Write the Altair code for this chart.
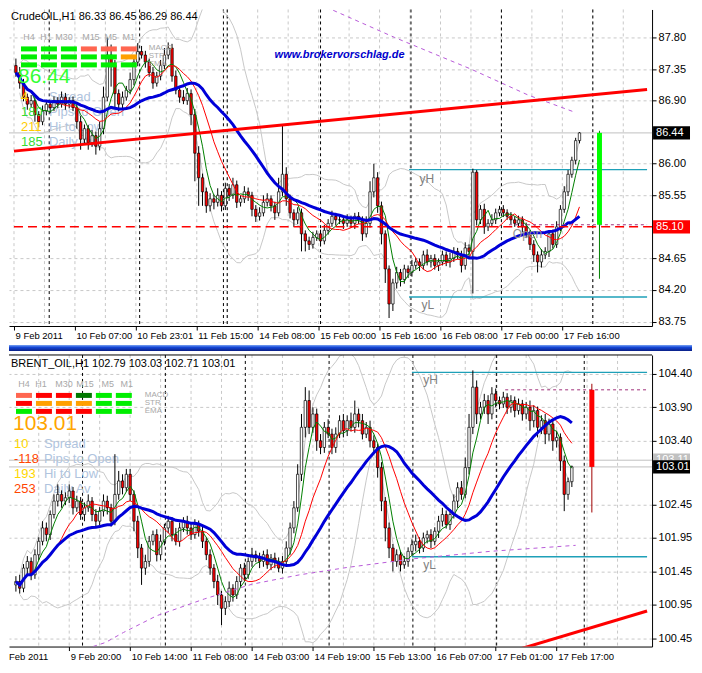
import altair as alt
import pandas as pd

FONT = "Liberation Sans"
W, H1, H2 = 644, 317, 292
XMAX = 166.25

# ---------------- CrudeOIL, H1 ----------------
crude_first_open = 87.40
crude_close = [
    87.30, 87.15, 86.95, 86.85, 86.90, 86.70, 86.60, 86.75, 86.85, 86.80,
    86.90, 86.85, 86.95, 86.85, 86.90, 86.80, 86.60, 86.35, 86.50, 86.30,
    86.40, 86.25, 86.50, 86.95, 87.55, 87.40, 87.00, 86.85, 86.95, 87.05,
    87.20, 87.45, 87.60, 87.55, 87.45, 87.30, 87.15, 87.25, 87.40, 87.55,
    87.65, 87.25, 87.05, 86.95, 86.90, 87.00, 86.70, 86.15, 85.80, 85.60,
    85.40, 85.50, 85.45, 85.55, 85.40, 85.65, 85.55, 85.70, 85.45, 85.50,
    85.60, 85.55, 85.35, 85.25, 85.30, 85.45, 85.50, 85.40, 85.30, 85.60,
    85.85, 85.50, 85.30, 85.20, 85.30, 85.00, 84.90, 84.85, 84.95, 85.00,
    84.90, 85.05, 85.15, 85.25, 85.20, 85.20, 85.15, 85.20, 85.15, 85.25,
    85.20, 85.00, 85.15, 85.60, 85.80, 85.40, 85.00, 84.50, 84.00, 84.30,
    84.45, 84.35, 84.50, 84.45, 84.55, 84.60, 84.55, 84.70, 84.60, 84.65,
    84.55, 84.60, 84.70, 84.60, 84.65, 84.75, 84.70, 84.55, 84.80, 84.75,
    85.88, 85.20, 85.35, 85.10, 85.15, 85.20, 85.30, 85.35, 85.30, 85.25,
    85.20, 85.15, 85.20, 85.10, 85.00, 84.85, 84.70, 84.60, 84.70, 84.75,
    85.00, 84.85, 85.10, 85.35, 85.60, 85.85, 86.05, 86.33, 86.44]
crude_up = [
    10, 8, 6, 5, 8, 6, 5, 8, 6, 5,
    6, 5, 8, 6, 5, 6, 5, 8, 6, 5,
    8, 6, 10, 15, 25, 15, 8, 6, 8, 6,
    10, 8, 12, 8, 6, 5, 8, 6, 8, 10,
    8, 6, 8, 6, 10, 8, 6, 8, 10, 6,
    6, 8, 6, 10, 6, 8, 6, 10, 6, 5,
    8, 6, 5, 6, 8, 10, 8, 5, 6, 20,
    70, 10, 6, 5, 8, 6, 5, 6, 8, 5,
    6, 8, 6, 8, 5, 6, 5, 8, 6, 5,
    6, 5, 10, 15, 20, 8, 6, 5, 5, 6,
    8, 5, 6, 5, 8, 6, 5, 6, 8, 5,
    6, 5, 6, 5, 8, 6, 5, 6, 8, 5,
    5, 3, 6, 8, 6, 8, 6, 5, 6, 5,
    6, 5, 6, 5, 6, 5, 6, 5, 8, 6,
    5, 6, 8, 6, 8, 6, 5, 4, 1]
crude_dn = [
    6, 8, 6, 8, 5, 10, 8, 5, 6, 8,
    5, 6, 5, 8, 6, 5, 10, 15, 8, 10,
    6, 12, 6, 8, 6, 30, 20, 10, 6, 5,
    6, 8, 6, 5, 8, 6, 8, 5, 6, 5,
    6, 8, 6, 8, 5, 6, 15, 40, 40, 20,
    10, 8, 10, 6, 8, 6, 8, 5, 8, 6,
    6, 8, 10, 8, 6, 5, 6, 8, 10, 5,
    6, 10, 8, 10, 6, 25, 15, 8, 6, 5,
    8, 5, 6, 5, 8, 6, 8, 5, 6, 8,
    6, 10, 5, 6, 8, 10, 15, 20, 20, 10,
    8, 10, 6, 8, 6, 5, 8, 6, 5, 8,
    6, 8, 5, 6, 8, 5, 6, 10, 6, 8,
    60, 8, 6, 10, 6, 5, 6, 5, 6, 5,
    6, 5, 6, 8, 6, 8, 10, 15, 8, 6,
    8, 6, 5, 6, 5, 6, 5, 6, 4]
crude_xticks = [0, 16, 32, 48, 64, 80, 96, 112, 128, 144]
crude_xlabels = ["9 Feb 2011", "10 Feb 07:00", "10 Feb 23:01", "11 Feb 15:00", "14 Feb 08:00",
                 "15 Feb 00:00", "15 Feb 16:00", "16 Feb 08:00", "17 Feb 00:00", "17 Feb 16:00"]
crude_yticks = [87.80, 87.35, 86.90, 86.00, 85.55, 84.65, 84.20, 83.75]
crude_ydom = [83.686, 88.20]
crude_days = [9.25, 33, 55, 56, 80.5, 104.25, 128, 152]
crude_long_ma_i = [80, 100, 120, 135, 147.5]
crude_long_ma = [88.28, 87.80, 87.35, 86.98, 86.73]

# ---------------- BRENT_OIL, H1 ----------------
brent_first_open = 101.25
brent_close = [
    101.30, 101.20, 101.50, 101.60, 101.40, 101.70, 101.90, 102.10, 102.00, 102.30,
    102.50, 102.60, 102.50, 102.55, 102.65, 102.40, 102.50, 102.30, 102.40, 102.50,
    102.30, 102.20, 102.35, 102.50, 102.40, 102.20, 102.60, 102.80, 102.70, 102.90,
    102.60, 102.20, 101.80, 101.50, 101.60, 101.90, 102.00, 101.70, 101.90, 102.10,
    102.20, 102.00, 101.90, 102.10, 102.20, 102.10, 102.00, 102.15, 102.05, 101.90,
    101.70, 101.50, 101.30, 101.10, 100.90, 101.00, 101.20, 101.10, 101.30, 101.50,
    101.40, 101.60, 101.70, 101.65, 101.60, 101.70, 101.55, 101.65, 101.60, 101.50,
    101.60, 101.80, 102.10, 102.40, 102.90, 103.60, 104.00, 103.60, 103.80, 103.40,
    103.30, 103.60, 103.50, 103.30, 103.50, 103.70, 103.55, 103.70, 103.60, 103.80,
    103.70, 103.50, 103.60, 103.40, 103.30, 103.00, 102.50, 102.10, 101.80, 101.60,
    101.70, 101.55, 101.60, 101.75, 101.85, 101.90, 101.80, 101.95, 102.00, 101.90,
    102.05, 102.20, 102.30, 102.15, 102.30, 102.50, 102.70, 102.60, 103.00, 103.60,
    104.20, 103.80, 103.90, 104.00, 103.80, 104.10, 104.00, 103.95, 104.05, 103.90,
    104.00, 103.85, 103.95, 103.80, 103.90, 103.70, 103.85, 103.60, 103.70, 103.50,
    103.65, 103.40, 103.45, 103.10, 102.60, 102.79, 103.01]
brent_up = [
    8, 10, 6, 8, 6, 8, 6, 10, 8, 6,
    10, 15, 6, 8, 10, 6, 8, 6, 8, 10,
    6, 8, 6, 10, 8, 6, 60, 15, 10, 8,
    8, 6, 8, 6, 10, 8, 6, 8, 10, 6,
    8, 6, 10, 8, 6, 8, 6, 8, 6, 8,
    6, 8, 6, 10, 6, 8, 10, 6, 8, 6,
    8, 6, 10, 6, 8, 6, 8, 6, 8, 6,
    8, 10, 8, 10, 15, 20, 20, 15, 10, 8,
    10, 8, 12, 8, 10, 8, 10, 8, 12, 20,
    8, 10, 8, 10, 8, 6, 8, 6, 8, 6,
    8, 6, 8, 6, 8, 10, 6, 8, 6, 8,
    6, 8, 10, 6, 8, 10, 8, 10, 15, 20,
    25, 10, 8, 10, 8, 10, 8, 6, 8, 6,
    8, 6, 8, 6, 8, 10, 8, 6, 8, 10,
    8, 6, 10, 6, 8, 6, 2]
brent_dn = [
    10, 8, 6, 10, 8, 6, 8, 6, 10, 8,
    6, 8, 10, 6, 8, 10, 6, 8, 10, 6,
    10, 8, 6, 8, 10, 8, 6, 8, 10, 6,
    10, 15, 15, 25, 10, 8, 6, 10, 8, 6,
    8, 10, 6, 8, 6, 10, 8, 6, 8, 10,
    8, 10, 10, 15, 25, 10, 8, 10, 6, 8,
    10, 6, 8, 6, 10, 8, 6, 8, 10, 6,
    8, 6, 10, 8, 6, 10, 15, 10, 8, 15,
    10, 8, 6, 10, 8, 6, 10, 8, 6, 8,
    10, 8, 6, 10, 8, 15, 15, 20, 15, 15,
    8, 10, 6, 8, 6, 10, 8, 6, 8, 10,
    6, 10, 8, 6, 8, 6, 10, 8, 6, 10,
    10, 15, 8, 10, 15, 8, 10, 8, 6, 10,
    8, 10, 6, 10, 8, 15, 10, 15, 10, 15,
    10, 15, 10, 15, 25, 8, 8]
brent_xticks = [14.5, 30.5, 46.5, 62.5, 78.5, 94.5, 110.5, 126.5, 142.5]
brent_xlabels = ["9 Feb 20:00", "10 Feb 14:00", "11 Feb 08:00", "14 Feb 03:00", "14 Feb 19:00",
                 "15 Feb 13:00", "16 Feb 07:00", "17 Feb 01:00", "17 Feb 17:00"]
brent_yticks = [104.40, 103.90, 103.40, 102.45, 101.95, 101.45, 100.95, 100.45]
brent_ydom = [100.33, 104.68]
brent_days = [18, 39.75, 60.75, 82.75, 104.75, 126.75, 149.75]
brent_long_ma_i = [20.75, 24, 28.75, 37.5, 50, 62.5, 75, 87.5, 105, 125, 140, 147.5]
brent_long_ma = [100.33, 100.39, 100.54, 100.79, 101.04, 101.26, 101.40, 101.51, 101.64, 101.75, 101.81, 101.84]


def make_candles(first_open, closes, up, dn):
    rows = []
    prev = first_open
    for k, c in enumerate(closes):
        o = prev
        rows.append({"i": k + 0.5, "o": o, "c": c,
                     "h": round(max(o, c) + up[k] / 100, 2),
                     "l": round(min(o, c) - dn[k] / 100, 2),
                     "dir": "up" if c >= o else "down"})
        prev = c
    return pd.DataFrame(rows)


def text_layer(rows, **mark):
    df = pd.DataFrame(rows, columns=["t", "px", "py", "col", "sz"])
    return alt.Chart(df).mark_text(font=FONT, baseline="middle", **mark).encode(
        x=alt.X("px:Q", scale=None, axis=None), y=alt.Y("py:Q", scale=None, axis=None),
        text="t:N", color=alt.Color("col:N", scale=None), size=alt.Size("sz:Q", scale=None))


def panel(cfg):
    H = cfg["H"]
    df = make_candles(cfg["open"], cfg["close"], cfg["up"], cfg["dn"])
    xs = alt.Scale(domain=[0, XMAX], nice=False, zero=False)
    ys = alt.Scale(domain=cfg["ydom"], nice=False, zero=False)
    labexpr = ("[" + ",".join("'%s'" % s for s in cfg["xlabels"]) + "][indexof(["
               + ",".join(str(v) for v in cfg["xticks"]) + "], datum.value)]")
    xaxis = alt.Axis(values=cfg["xticks"], labelExpr=labexpr, grid=False, tickSize=4,
                     tickColor="black", domainColor="black", labelColor="black", labelFont=FONT,
                     labelFontSize=9.5, labelAlign="left", labelOffset=1, labelPadding=1,
                     labelOverlap=False, labelFlush=False, labelBound=False, title=None)
    yaxis = alt.Axis(orient="right", values=cfg["yticks"], format=".2f", grid=True, gridDash=[3, 3],
                     gridColor="#c8c8c8", tickSize=4, tickColor="black", domainColor="black",
                     labelColor="black", labelFont=FONT, labelFontSize=11, labelPadding=2,
                     labelOverlap=False, labelFlush=False, title=None)

    def X(f):
        return alt.X(f, type="quantitative", scale=xs)

    def Y(f):
        return alt.Y(f, type="quantitative", scale=ys)

    base = alt.Chart(df)
    layers = []
    # invisible carrier of the axes (first layer so its axis settings win)
    layers.append(base.mark_rule(opacity=0).encode(
        x=alt.X("i:Q", scale=xs, axis=xaxis), y=alt.Y("l:Q", scale=ys, axis=yaxis), y2="h:Q"))
    # vertical grid
    vg = pd.DataFrame({"g": [cfg["grid0"] + 8 * k for k in range(22) if cfg["grid0"] + 8 * k <= XMAX]})
    layers.append(alt.Chart(vg).mark_rule(color="#c8c8c8", strokeDash=[3, 3], strokeWidth=1).encode(x=X("g")))
    # day separators
    layers.append(alt.Chart(pd.DataFrame({"d": cfg["days"]})).mark_rule(
        color="black", strokeDash=[3, 3], strokeWidth=1).encode(x=X("d")))
    # bid lines
    layers.append(alt.Chart(pd.DataFrame({"p": cfg["bid"]})).mark_rule(
        color="#c0c0c0", strokeWidth=1).encode(y=Y("p")))
    # bollinger
    bb = base.transform_window(bbm="mean(c)", bbs="stdev(c)", frame=[-19, 0],
                               sort=[alt.SortField("i")]).transform_calculate(
        bbu="datum.bbm + 2*datum.bbs", bbl="datum.bbm - 2*datum.bbs")
    layers.append(bb.mark_line(color="#c8c8c8", strokeWidth=1, clip=True).encode(x=X("i"), y=Y("bbu:Q")))
    layers.append(bb.mark_line(color="#c8c8c8", strokeWidth=1, clip=True).encode(x=X("i"), y=Y("bbl:Q")))
    # info texts
    layers.append(text_layer(cfg["info"], align="left"))
    # yH / yL levels
    lv = pd.DataFrame({"p": cfg["levels"], "a": [cfg["level_from"]] * 2, "b": [XMAX] * 2})
    layers.append(alt.Chart(lv).mark_rule(color="#1ea0b8", strokeWidth=1.3).encode(
        x=X("a"), x2="b:Q", y=Y("p")))
    lt = pd.DataFrame({"t": ["yH", "yL"], "i": cfg["lvl_text_i"], "p": cfg["lvl_text_p"]})
    layers.append(alt.Chart(lt).mark_text(font=FONT, fontSize=12, color="#808080", align="left").encode(
        x=X("i"), y=Y("p"), text="t:N"))
    # candles
    layers.append(base.mark_rule(color="black", strokeWidth=1, clip=True).encode(
        x=X("i"), y=Y("l"), y2="h:Q"))
    layers.append(base.mark_bar(size=2.4, stroke="black", strokeWidth=0.7, clip=True).encode(
        x=X("i"), y=Y("o"), y2="c:Q",
        fill=alt.Fill("dir:N", scale=alt.Scale(domain=["up", "down"], range=["white", "#ff0000"]), legend=None)))
    # moving averages
    for n, name, col, sw in [(5, "mg", "#008000", 1), (12, "mr", "#ff0000", 1), (26, "mb", "#0000d8", 3)]:
        layers.append(base.transform_window(**{name: "mean(c)"}, frame=[-(n - 1), 0],
                                            sort=[alt.SortField("i")]).mark_line(
            color=col, strokeWidth=sw, clip=True).encode(x=X("i"), y=Y(name + ":Q")))
    # long MA (dashed purple)
    lm = pd.DataFrame({"i": cfg["lma_i"], "p": cfg["lma"]})
    layers.append(alt.Chart(lm).mark_line(color="#b85ad8", strokeDash=[4, 4], strokeWidth=1, clip=True).encode(
        x=X("i"), y=Y("p")))
    # trend line
    tr = pd.DataFrame({"i": cfg["trend_i"], "p": cfg["trend_p"]})
    layers.append(alt.Chart(tr).mark_line(color="#ff0000", strokeWidth=3, clip=True).encode(x=X("i"), y=Y("p")))
    # red dashed level
    if cfg.get("reddash"):
        layers.append(alt.Chart(pd.DataFrame({"p": [cfg["reddash"]]})).mark_rule(
            color="#ff0000", strokeDash=[9, 5], strokeWidth=1.5).encode(y=Y("p")))
    # purple open line
    op = pd.DataFrame({"p": [cfg["open_line"]], "a": [cfg["open_from"]], "b": [XMAX]})
    layers.append(alt.Chart(op).mark_rule(color="#a0307a", strokeDash=[3, 3], strokeWidth=1).encode(
        x=X("a"), x2="b:Q", y=Y("p")))
    if cfg.get("open_text"):
        layers.append(alt.Chart(pd.DataFrame({"t": ["Open"], "i": [cfg["open_text"][0]], "p": [cfg["open_text"][1]]}))
                      .mark_text(font=FONT, fontSize=12, color="#909090", align="left").encode(
            x=X("i"), y=Y("p"), text="t:N"))
    # daily bar
    d = pd.DataFrame([cfg["day"]])
    layers.append(alt.Chart(d).mark_rule(color=cfg["day_wick"], strokeWidth=1).encode(x=X("i"), y=Y("l"), y2="h:Q"))
    layers.append(alt.Chart(d).mark_bar(size=5, color=cfg["day_fill"]).encode(x=X("i"), y=Y("o"), y2="c:Q"))
    # signal matrix
    mrows = [{"col": c, "row": r, "color": cfg["matrix"][r][c]} for r in range(3) for c in range(6)]
    mx, my = cfg["matrix_xy"]
    layers.append(alt.Chart(pd.DataFrame(mrows)).transform_calculate(
        x1="%d + 20*datum.col" % mx, x2="%d + 20*datum.col" % (mx + 16),
        y1="%d + 8*datum.row" % my, y2="%d + 8*datum.row" % (my + 5)).mark_rect().encode(
        x=alt.X("x1:Q", scale=None, axis=None), x2="x2:Q",
        y=alt.Y("y1:Q", scale=None, axis=None), y2="y2:Q", fill=alt.Fill("color:N", scale=None)))
    layers.append(text_layer(cfg["headers"], align="center"))
    layers.append(text_layer(cfg["texts"], align="left"))
    if cfg.get("brand"):
        layers.append(text_layer(cfg["brand"], align="left", fontWeight="bold", fontStyle="italic"))
    # right-axis price boxes
    bx = pd.DataFrame(cfg["boxes"], columns=["p", "t", "bg"])
    bx["lo"] = bx["p"] - cfg["box_h"]
    bx["hi"] = bx["p"] + cfg["box_h"]
    for k in range(len(bx)):
        one = bx.iloc[[k]]
        layers.append(alt.Chart(one).mark_rect().encode(
            x=alt.value(W + 1), x2=alt.value(W + 38), y=Y("lo"), y2="hi:Q", fill=alt.Fill("bg:N", scale=None)))
        layers.append(alt.Chart(one).mark_text(font=FONT, fontSize=11, color="white", align="left",
                                               baseline="middle").encode(
            x=alt.value(W + 4), y=Y("p"), text="t:N"))
    layers.extend(cfg.get("extra", []))
    return alt.layer(*layers).properties(width=W, height=H)


one_row = pd.DataFrame({"a": [0]})
blue_bar = alt.Chart(one_row).mark_rect(color=alt.Gradient(
    gradient="linear", x1=0, x2=0, y1=0, y2=1,
    stops=[alt.GradientStop(color="#7aa4f4", offset=0), alt.GradientStop(color="#1446d6", offset=0.4),
           alt.GradientStop(color="#0a1f86", offset=1)])).encode(
    x=alt.value(0), x2=alt.value(W + 40), y=alt.value(H1 + 19), y2=alt.value(H1 + 25))

LB = "#b0c4de"
GR = "#a8a8a8"
top_cfg = dict(
    H=H1, open=crude_first_open, close=crude_close, up=crude_up, dn=crude_dn,
    ydom=crude_ydom, xticks=crude_xticks, xlabels=crude_xlabels, yticks=crude_yticks,
    grid0=0, days=crude_days, bid=[86.44], levels=[85.915, 84.10], level_from=103.75,
    lvl_text_i=[106.5, 107], lvl_text_p=[85.78, 83.99],
    lma_i=crude_long_ma_i, lma=crude_long_ma, trend_i=[0, XMAX], trend_p=[86.18, 87.06],
    reddash=85.10, open_line=85.13, open_from=130, open_text=(131, 85.0),
    day=dict(i=153.75, o=86.44, c=85.13, h=86.47, l=84.36), day_fill="#00ff00", day_wick="#008000",
    matrix=[["#00ee00", "#00ee00", "#00ee00", "#ff6650", "#ff6650", "#ff6650"],
            ["#00ee00", "#00ee00", "#00ee00", "#00ee00", "#00ee00", "#ffa000"],
            ["#00ee00", "#00ee00", "#00ee00", "#00ee00", "#00ee00", "#00ee00"]],
    matrix_xy=(12, 37),
    headers=[("H4", 20, 28, GR, 9), ("H1", 37, 28, GR, 9), ("M30", 55, 28, GR, 9),
             ("M15", 82, 28, GR, 9), ("M5", 102, 28, GR, 9), ("M1", 120, 28, GR, 9)],
    info=[("Spread", 40, 88, LB, 13), ("Pips to Open", 40, 103, LB, 13),
          ("Hi to Low", 40, 118, LB, 13), ("Daily Av", 40, 133, LB, 13)],
    texts=[("CrudeOIL,H1  86.33 86.45 86.29 86.44", 2, 8, "black", 11),
           ("MACD", 140, 39, GR, 8), ("STR", 140, 47, GR, 8), ("EMA", 140, 55, GR, 8),
           ("86.44", 9, 68, "#33ff33", 21),
           ("4", 12, 88, "#ffcc00", 13), ("180", 12, 103, "#33dd33", 13),
           ("211", 12, 118, "#ffcc00", 13), ("185", 12, 133, "#33dd33", 13)],
    brand=[("www.brokervorschlag.de", 266, 46, "#0000cc", 11)],
    boxes=[(86.44, "86.44", "black"), (85.10, "85.10", "#ff0000")], box_h=0.095,
    extra=[blue_bar])

bot_top_line = alt.Chart(one_row).mark_rule(color="black", strokeWidth=1).encode(
    x=alt.value(0), x2=alt.value(W), y=alt.value(0))
feb_label = alt.Chart(pd.DataFrame({"t": ["Feb 2011"]})).mark_text(
    font=FONT, fontSize=9.5, align="left", baseline="top", color="black").encode(
    x=alt.value(0), y=alt.value(H2 + 5), text="t:N")

bot_cfg = dict(
    H=H2, open=brent_first_open, close=brent_close, up=brent_up, dn=brent_dn,
    ydom=brent_ydom, xticks=brent_xticks, xlabels=brent_xlabels, yticks=brent_yticks,
    grid0=6.5, days=brent_days, bid=[103.11, 103.01], levels=[104.42, 101.67], level_from=104.5,
    lvl_text_i=[107.5, 107.5], lvl_text_p=[104.31, 101.54],
    lma_i=brent_long_ma_i, lma=brent_long_ma, trend_i=[130, XMAX], trend_p=[100.245, 100.86],
    reddash=None, open_line=104.16, open_from=129, open_text=None,
    day=dict(i=151.75, o=104.16, c=103.01, h=104.25, l=102.33), day_fill="#ff0000", day_wick="#a00000",
    matrix=[["#ff6650", "#ff0000", "#ff0000", "#007800", "#00ee00", "#00ee00"],
            ["#ff0000", "#ffa000", "#ffa000", "#ffa000", "#00ee00", "#00ee00"],
            ["#00ee00", "#ff0000", "#ff0000", "#ff0000", "#00ee00", "#00ee00"]],
    matrix_xy=(7, 38),
    headers=[("H4", 15, 29, GR, 9), ("H1", 32, 29, GR, 9), ("M30", 55, 29, GR, 9),
             ("M15", 76, 29, GR, 9), ("M5", 99, 29, GR, 9), ("M1", 118, 29, GR, 9)],
    info=[("Spread", 35, 89, LB, 13), ("Pips to Open", 35, 104, LB, 13),
          ("Hi to Low", 35, 119, LB, 13), ("Daily Av", 35, 134, LB, 13)],
    texts=[("BRENT_OIL,H1  102.79 103.03 102.71 103.01", 2, 9, "black", 11),
           ("MACD", 136, 40, GR, 8), ("STR", 136, 48, GR, 8), ("EMA", 136, 56, GR, 8),
           ("103.01", 4, 69, "#ffa500", 21),
           ("10", 5, 89, "#ffd700", 13), ("-118", 5, 104, "#ff4500", 13),
           ("193", 5, 119, "#ffd700", 13), ("253", 5, 134, "#ff4500", 13)],
    brand=None,
    boxes=[(103.11, "103.11", "#c0c0c0"), (103.01, "103.01", "black")], box_h=0.1,
    extra=[bot_top_line, feb_label])

chart = alt.vconcat(panel(top_cfg), panel(bot_cfg), spacing=3).properties(
    padding={"left": 0, "top": 0, "right": 2, "bottom": 2}, background="white"
).configure_view(strokeWidth=0)

chart.save("out.html", embed_options={"renderer": "svg", "actions": False})
